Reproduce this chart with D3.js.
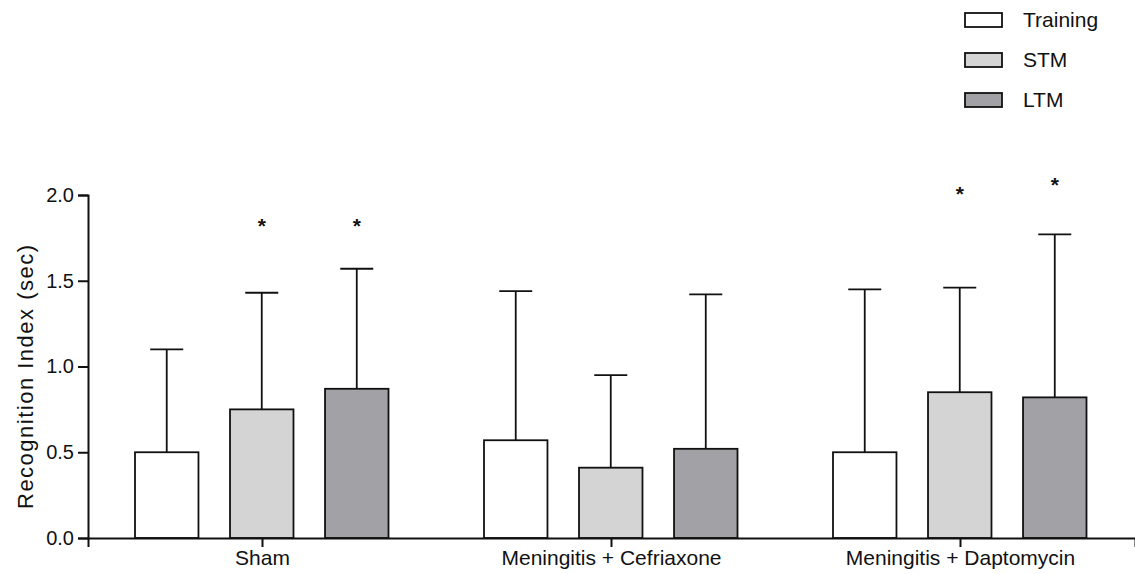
<!DOCTYPE html>
<html>
<head>
  <meta charset="utf-8">
  <script src="https://d3js.org/d3.v7.min.js"></script>
  <style>
    body { margin: 0; background: #fff; }
    text { font-family: "Liberation Sans", Arial, sans-serif; fill: #111; }
  </style>
</head>
<body>
<div id="my_dataviz"></div>
<script>
// data
const groups = ["Sham", "Meningitis + Cefriaxone", "Meningitis + Daptomycin"]
const series = ["Training", "STM", "LTM"]
const colors = ["#ffffff", "#d4d4d4", "#a2a1a6"]
const meanTraining = [0.50, 0.57, 0.50]
const meanSTM      = [0.75, 0.41, 0.85]
const meanLTM      = [0.87, 0.52, 0.82]
const errTraining  = [1.10, 1.44, 1.45]
const errSTM       = [1.43, 0.95, 1.46]
const errLTM       = [1.57, 1.42, 1.77]
// significance marks: [group, series, height]
const stars = [
  ["Sham", "STM", 1.83], ["Sham", "LTM", 1.83],
  ["Meningitis + Daptomycin", "STM", 2.02], ["Meningitis + Daptomycin", "LTM", 2.07]
]
const yTicks = [0, 0.5, 1.0, 1.5, 2.0]

const width = 1135, height = 574

const svg = d3.select("#my_dataviz")
  .append("svg")
    .attr("width", width)
    .attr("height", height)

const means = [meanTraining, meanSTM, meanLTM]
const errs = [errTraining, errSTM, errLTM]
const data = []
groups.forEach((g, gi) => {
  series.forEach((s, si) => {
    data.push({group: g, series: s, value: means[si][gi], top: errs[si][gi], color: colors[si]})
  })
})

const x0 = d3.scaleBand()
  .domain(groups)
  .range([88, 1135])

const x1 = d3.scaleBand()
  .domain(series)
  .range([47, 300.5])
  .paddingInner(0.332)

const y = d3.scaleLinear()
  .domain([0, 2])
  .range([538, 195])

// error bars (drawn first, bars sit on top)
const capW = 33
const eb = svg.append("g")
  .attr("stroke", "#111")
  .attr("stroke-width", 1.8)
data.forEach(d => {
  const cx = x0(d.group) + x1(d.series) + x1.bandwidth() / 2
  eb.append("line")
    .attr("x1", cx).attr("x2", cx)
    .attr("y1", y(d.value)).attr("y2", y(d.top))
  eb.append("line")
    .attr("x1", cx - capW / 2).attr("x2", cx + capW / 2)
    .attr("y1", y(d.top)).attr("y2", y(d.top))
})

svg.append("g")
  .selectAll("rect")
  .data(data)
  .join("rect")
    .attr("x", d => x0(d.group) + x1(d.series))
    .attr("y", d => y(d.value))
    .attr("width", x1.bandwidth())
    .attr("height", d => y(0) - y(d.value))
    .attr("fill", d => d.color)
    .attr("stroke", "#111")
    .attr("stroke-width", 1.8)

// stars
svg.append("g")
  .selectAll("text")
  .data(stars)
  .join("text")
    .attr("x", d => x0(d[0]) + x1(d[1]) + x1.bandwidth() / 2)
    .attr("y", d => y(d[2]) + 9)
    .attr("text-anchor", "middle")
    .style("font-size", "21px")
    .style("font-weight", "bold")
    .text("*")

// y axis
const yAxis = svg.append("g")
  .attr("transform", "translate(88,0)")
  .call(d3.axisLeft(y).tickValues(yTicks).tickFormat(d3.format(".1f")).tickSize(10).tickPadding(4))
yAxis.select(".domain").attr("stroke-width", 2).attr("stroke", "#111")
yAxis.selectAll(".tick line").attr("stroke-width", 2).attr("stroke", "#111")
yAxis.selectAll(".tick text").style("font-size", "20px").style("font-family", "Liberation Sans, Arial, sans-serif").attr("fill", "#111")

// x axis
const xAxis = svg.append("g")
  .attr("transform", "translate(0,538)")
  .call(d3.axisBottom(x0).tickSizeOuter(0).tickSize(9).tickPadding(3))
xAxis.select(".domain").attr("stroke-width", 2).attr("stroke", "#111")
xAxis.selectAll(".tick line").attr("stroke-width", 2).attr("stroke", "#111")
xAxis.selectAll(".tick text").style("font-size", "21px").style("font-family", "Liberation Sans, Arial, sans-serif").attr("fill", "#111")

svg.append("text")
  .attr("transform", "translate(33,377) rotate(-90)")
  .attr("text-anchor", "middle")
  .attr("textLength", 264)
  .attr("lengthAdjust", "spacing")
  .style("font-size", "22px")
  .text("Recognition Index (sec)")

// legend
const legend = svg.append("g")
  .selectAll("g")
  .data(series)
  .join("g")
    .attr("transform", (d, i) => `translate(965,${13 + i * 40})`)
legend.append("rect")
  .attr("width", 37)
  .attr("height", 14)
  .attr("fill", (d, i) => colors[i])
  .attr("stroke", "#111")
  .attr("stroke-width", 1.8)
legend.append("text")
  .attr("x", 58)
  .attr("y", 7)
  .attr("dy", "0.34em")
  .style("font-size", "21px")
  .text(d => d)
</script>
</body>
</html>
